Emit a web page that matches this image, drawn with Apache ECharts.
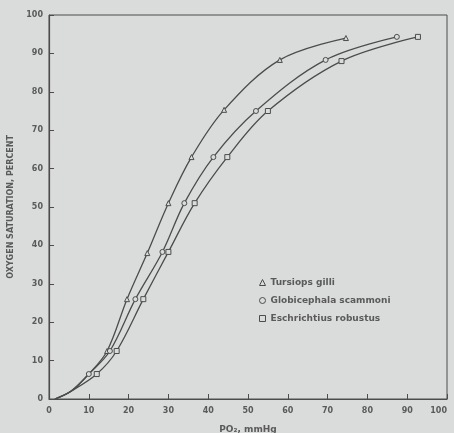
<!DOCTYPE html>
<html>
<head>
<meta charset="utf-8">
<script src="https://cdn.jsdelivr.net/npm/echarts@6/dist/echarts.min.js"></script>
<style>
  html, body { margin: 0; padding: 0; background: #d9dcdb; }
  #chart { width: 454px; height: 433px; }
</style>
</head>
<body>
<div id="chart"></div>
<script>
// shared start of the three curves (no markers there)
const startPO2 = [1.5, 5.5]
const startSat = [0, 2]

const tursiopsPO2 = [14.6, 19.6, 24.7, 30, 35.8, 44, 58, 74.6]
const tursiopsSat = [12.5, 26, 38, 51, 63, 75.3, 88.3, 94]

const globicephalaPO2 = [10, 15.3, 21.7, 28.5, 34, 41.3, 52, 69.5, 87.4]
const globicephalaSat = [6.5, 12.5, 26, 38.3, 51, 63, 75, 88.3, 94.3]

const eschrichtiusPO2 = [12, 17, 23.7, 30, 36.6, 44.8, 55, 73.5, 92.7]
const eschrichtiusSat = [6.5, 12.5, 26, 38.3, 51, 63, 75, 88, 94.3]

const xTicks = [0, 10, 20, 30, 40, 50, 60, 70, 80, 90, 100]
const yTicks = [0, 10, 20, 30, 40, 50, 60, 70, 80, 90, 100]

const BG = '#d9dcdb'
const INK = '#4c4c4c'
const TXT = '#5a5a5a'

function buildData(xs, ys, joinPoint) {
  const pts = startPO2.map((x, i) => ({ value: [x, startSat[i]], symbol: 'none' }))
  if (joinPoint) pts.push({ value: joinPoint, symbol: 'none' })
  xs.forEach((x, i) => pts.push({ value: [x, ys[i]] }))
  return pts
}

function mkSeries(name, symbol, data) {
  return {
    name,
    type: 'line',
    data,
    smooth: 0.35,
    symbol,
    symbolSize: 5,
    showSymbol: true,
    lineStyle: { color: INK, width: 1.3 },
    itemStyle: { color: BG, borderColor: INK, borderWidth: 1 },
    emphasis: { disabled: true },
    z: 3,
  }
}

const chart = echarts.init(document.getElementById('chart'))
const fontBase = { fontFamily: 'DejaVu Sans', fontWeight: 'bold', color: TXT }
const legendMark = { color: BG, borderColor: INK, borderWidth: 1 }

chart.setOption({
  backgroundColor: BG,
  animation: false,
  grid: {
    left: 49, right: 7, top: 15, bottom: 34,
    outerBoundsMode: 'none',
    show: true, borderColor: INK, borderWidth: 1,
  },
  legend: {
    orient: 'vertical',
    left: 254,
    top: 273,
    itemGap: 9,
    itemWidth: 6,
    itemHeight: 6,
    textStyle: { ...fontBase, fontSize: 9 },
    data: [
      { name: 'Tursiops gilli', icon: 'triangle', itemStyle: legendMark },
      { name: 'Globicephala scammoni', icon: 'circle', itemStyle: legendMark },
      { name: 'Eschrichtius robustus', icon: 'rect', itemStyle: legendMark },
    ],
  },
  xAxis: {
    type: 'value',
    min: xTicks[0],
    max: xTicks[xTicks.length - 1],
    interval: 10,
    name: 'PO₂, mmHg',
    nameLocation: 'middle',
    nameGap: 26,
    nameTextStyle: { ...fontBase, fontSize: 9 },
    axisLine: { lineStyle: { color: INK, width: 1.2 } },
    axisTick: { inside: true, length: 5, lineStyle: { color: INK } },
    axisLabel: { ...fontBase, fontSize: 8, margin: 8, alignMaxLabel: 'right' },
    splitLine: { show: false },
  },
  yAxis: {
    type: 'value',
    min: yTicks[0],
    max: yTicks[yTicks.length - 1],
    interval: 10,
    name: 'OXYGEN SATURATION, PERCENT',
    nameLocation: 'middle',
    nameGap: 34,
    nameRotate: 90,
    nameTextStyle: { ...fontBase, fontSize: 8 },
    axisLine: { show: true, lineStyle: { color: INK, width: 1.2 } },
    axisTick: { show: true, inside: true, length: 5, lineStyle: { color: INK } },
    axisLabel: { ...fontBase, fontSize: 8, margin: 6 },
    splitLine: { show: false },
  },
  series: [
    mkSeries('Tursiops gilli', 'triangle', buildData(tursiopsPO2, tursiopsSat, [globicephalaPO2[0], globicephalaSat[0]])),
    mkSeries('Globicephala scammoni', 'circle', buildData(globicephalaPO2, globicephalaSat)),
    mkSeries('Eschrichtius robustus', 'rect', buildData(eschrichtiusPO2, eschrichtiusSat)),
  ],
})
</script>
</body>
</html>
